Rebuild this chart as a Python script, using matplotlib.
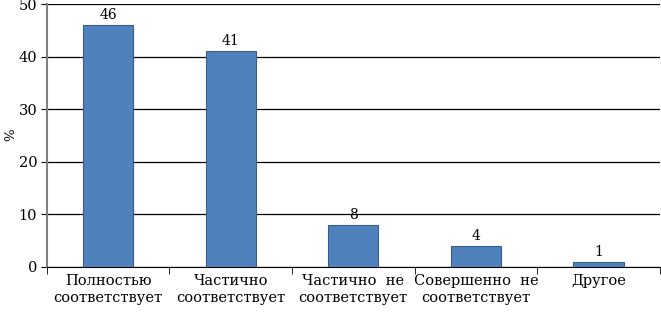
import matplotlib.pyplot as plt
import numpy as np

categories = ['Полностью\nсоответствует', 'Частично\nсоответствует',
              'Частично  не\nсоответствует', 'Совершенно  не\nсоответствует', 'Другое']
values = [46, 41, 8, 4, 1]

plt.rcParams['font.family'] = 'DejaVu Serif'
plt.rcParams['font.size'] = 10

fig = plt.figure(figsize=(6.61, 3.13), dpi=100)
ax = fig.add_axes([0.071, 0.147, 0.927, 0.84])

x = np.arange(len(values))
bars = ax.bar(x, values, width=0.41, color='#4F81BD', edgecolor='#385D8A', linewidth=0.8, zorder=3)
for xi, v in zip(x, values):
    ax.text(xi, v + 0.6, str(v), ha='center', va='bottom', fontsize=10)

ax.set_xlim(-0.5, len(values) - 0.5)
ax.set_ylim(0, 50)
ax.set_yticks(range(0, 51, 10))
ax.yaxis.grid(True, color='black', linewidth=0.9, zorder=0)
ax.set_xticks(x)
ax.set_xticklabels(categories, linespacing=1.3, fontsize=10.5)
ax.set_xticks(np.arange(-0.5, len(values)), minor=True)
ax.tick_params(axis='x', which='major', length=0, pad=5)
ax.tick_params(axis='x', which='minor', length=5, color='black')
ax.tick_params(axis='y', length=4, color='black', pad=3, labelsize=10.5)

for s in ['top', 'right']:
    ax.spines[s].set_visible(False)
ax.spines['left'].set_color('#808080')
ax.spines['left'].set_linewidth(1.5)
ax.spines['bottom'].set_color('black')
fig.text(11 / 661, 0.57, '%', rotation=90, ha='center', va='center', fontsize=9.5)

plt.savefig('out.png', dpi=100)
